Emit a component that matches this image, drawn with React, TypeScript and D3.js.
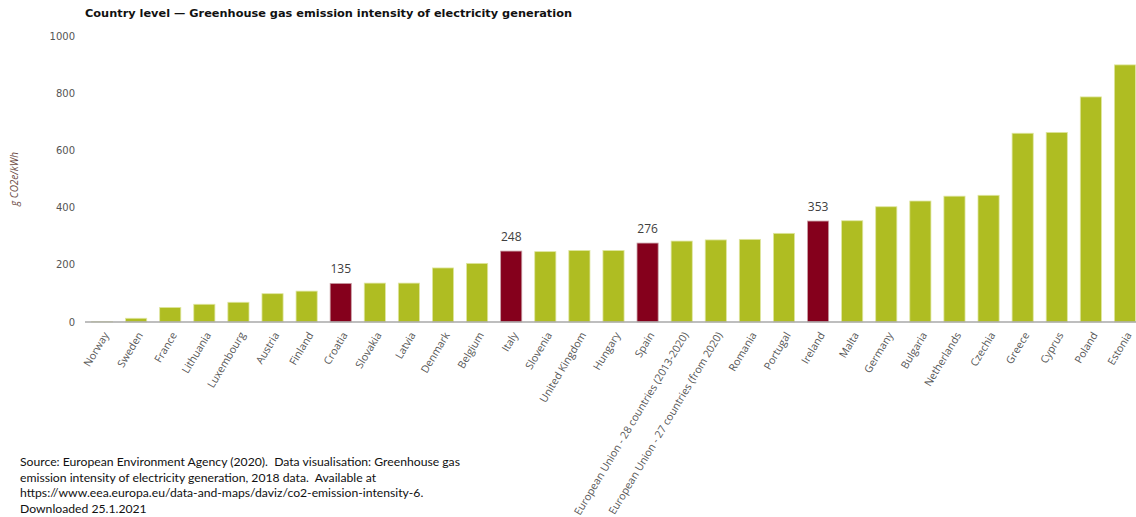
import React from "react";
import * as d3 from "d3";

const categories: string[] = [
  "Norway", "Sweden", "France", "Lithuania", "Luxembourg", "Austria", "Finland", "Croatia",
  "Slovakia", "Latvia", "Denmark", "Belgium", "Italy", "Slovenia", "United Kingdom", "Hungary",
  "Spain", "European Union - 28 countries (2013-2020)", "European Union - 27 countries (from 2020)",
  "Romania", "Portugal", "Ireland", "Malta", "Germany", "Bulgaria", "Netherlands", "Czechia",
  "Greece", "Cyprus", "Poland", "Estonia",
];
const values: number[] = [
  1, 13, 51, 62, 69, 99, 108, 135,
  136, 136, 189, 205, 248, 246, 250, 250,
  276, 283, 287,
  289, 310, 353, 354, 403, 423, 440, 443,
  660, 663, 787, 899,
];
const highlighted: string[] = ["Croatia", "Italy", "Spain", "Ireland"];
const yTicks: number[] = [0, 200, 400, 600, 800, 1000];

const title = "Country level \u2014 Greenhouse gas emission intensity of electricity generation";
const yLabel = "g CO2e/kWh";
const sourceLines: string[] = [
  "Source: European Environment Agency (2020).  Data visualisation: Greenhouse gas",
  "emission intensity of electricity generation, 2018 data.  Available at",
  "https://www.eea.europa.eu/data-and-maps/daviz/co2-emission-intensity-6.",
  "Downloaded 25.1.2021",
];

const W = 1136;
const H = 517;
const GREEN = "#afbd22";
const RED = "#85001c";

export default function App() {
  const x = d3.scaleBand<string>().domain(categories).range([85, 1142]).paddingInner(0.38).paddingOuter(0.19);
  const y = d3.scaleLinear().domain([0, 1000]).range([322, 36]);

  return (
    <svg
      width={W}
      height={H}
      viewBox={`0 0 ${W} ${H}`}
      style={{ position: "absolute", left: 0, top: 0, display: "block", background: "#fff" }}
    >
      <text x={85} y={17} fontFamily="DejaVu Sans" fontWeight="bold" fontSize={11} fill="#111"
        textLength={487} lengthAdjust="spacingAndGlyphs">
        {title}
      </text>

      {yTicks.map((t) => (
        <text key={t} x={75} y={y(t)} dy="0.35em" textAnchor="end" fontFamily="DejaVu Sans"
          fontSize={10} fill="#555">
          {t}
        </text>
      ))}

      <text transform={`translate(18,${179}) rotate(-90)`} textAnchor="middle" fontFamily="Open Sans"
        fontStyle="italic" fontSize={10} fill="#6b4a44">
        {yLabel}
      </text>

      {categories.map((c, i) => {
        const v = values[i];
        const bx = x(c) as number;
        const isHi = highlighted.includes(c);
        return (
          <g key={c}>
            <rect x={bx} y={y(v)} width={x.bandwidth()} height={y(0) - y(v)}
              fill={isHi ? RED : GREEN} stroke={isHi ? "#c9a0a6" : "#dfe6a0"} strokeWidth={0.8} />
            {isHi && (
              <text x={bx + x.bandwidth() / 2} y={y(v) - 10} textAnchor="middle" fontFamily="Open Sans"
                fontSize={12} fill="#404040">
                {v}
              </text>
            )}
          </g>
        );
      })}

      <line x1={85} x2={W} y1={y(0)} y2={y(0)} stroke="#a8a8a8" strokeWidth={1.5} />

      {categories.map((c) => {
        const cx = (x(c) as number) + x.bandwidth() / 2;
        return (
          <text key={"l" + c} transform={`translate(${cx + 4},${333}) rotate(-59)`} textAnchor="end"
            dy="0.35em" fontFamily="Open Sans" fontSize={10.6} fill="#555">
            {c}
          </text>
        );
      })}

      {sourceLines.map((s, i) => (
        <text key={i} x={20} y={466 + i * 15.7} fontFamily="Lato" fontSize={12.2} fill="#111"
          style={{ whiteSpace: "pre" }}>
          {s}
        </text>
      ))}
    </svg>
  );
}
